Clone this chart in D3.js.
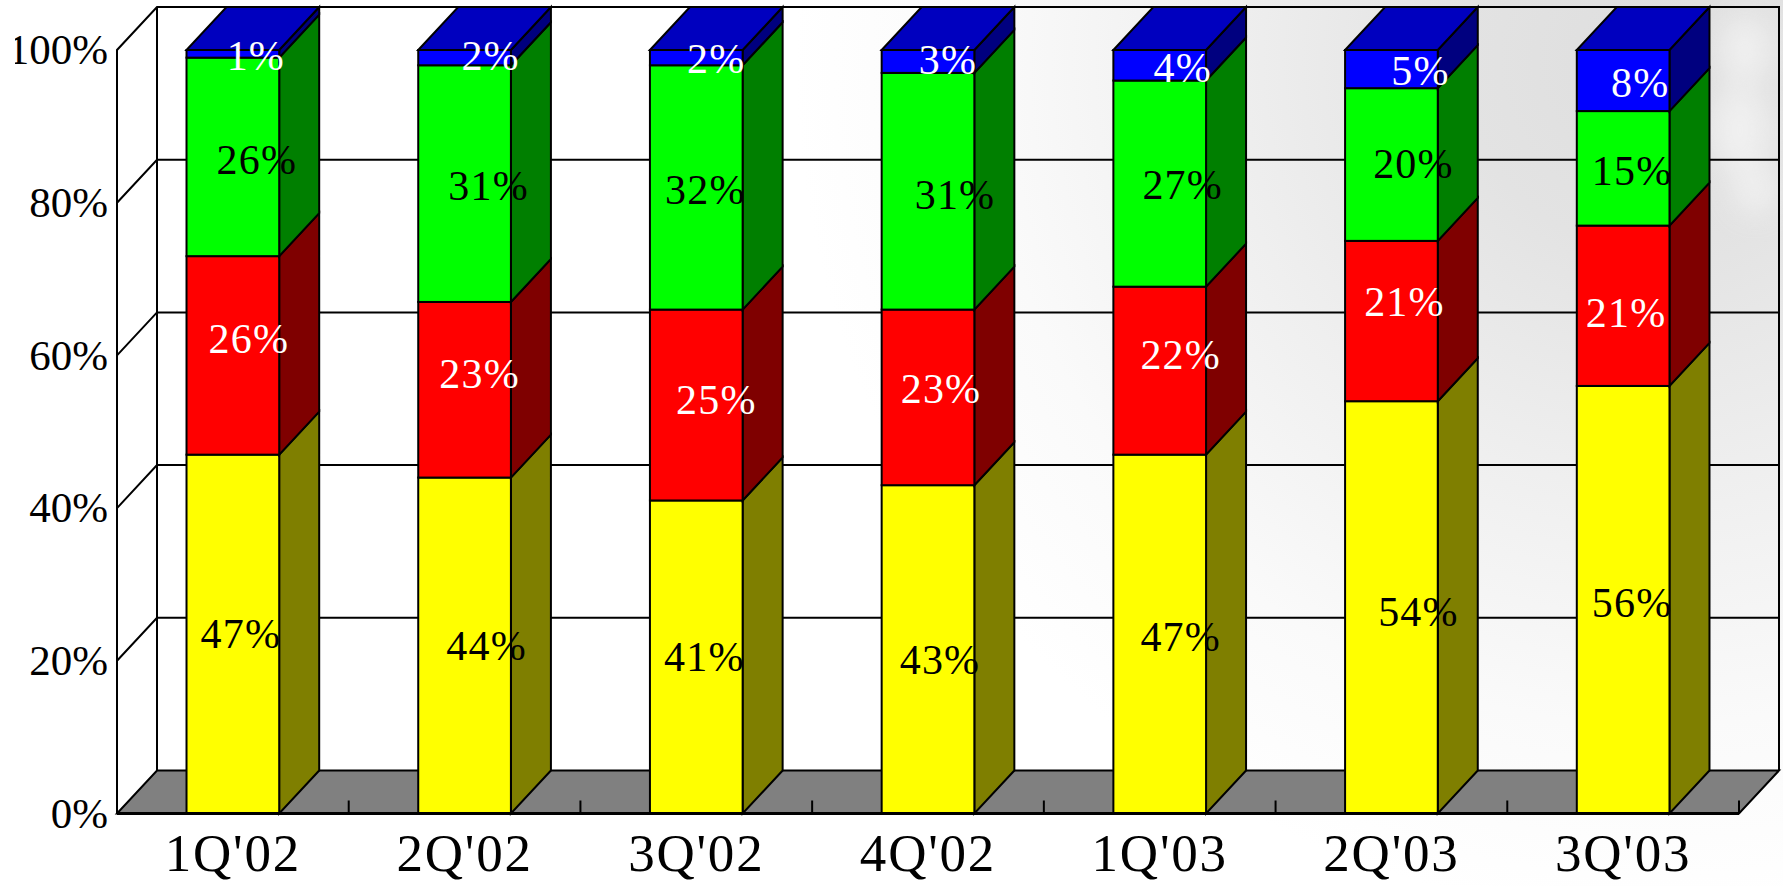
<!DOCTYPE html>
<html>
<head>
<meta charset="utf-8">
<script src="https://cdn.jsdelivr.net/npm/d3@7/dist/d3.min.js"></script>
<style>
  html, body { margin: 0; padding: 0; background: #fff; overflow: hidden; }
  svg { display: block; font-family: "Liberation Serif", serif; }
</style>
</head>
<body>
<svg id="chart" width="1783" height="886"></svg>
<script>
// Quarterly share by segment, bottom of the stack first
const quarters = ["1Q'02", "2Q'02", "3Q'02", "4Q'02", "1Q'03", "2Q'03", "3Q'03"];
const seriesNames = ["yellow", "red", "green", "blue"];
const yellowValues = [47, 44, 41, 43, 47, 54, 56];
const redValues = [26, 23, 25, 23, 22, 21, 21];
const greenValues = [26, 31, 32, 31, 27, 20, 15];
const blueValues = [1, 2, 2, 3, 4, 5, 8];
const percentTicks = [0, 20, 40, 60, 80, 100];

// Face colours for each series
const frontFill = { yellow: "#ffff00", red: "#ff0000", green: "#00ff00", blue: "#0000ff" };
const sideFill = { yellow: "#7f7f00", red: "#7f0000", green: "#007f00", blue: "#00007f" };
const labelFill = { yellow: "#000", red: "#fff", green: "#000", blue: "#fff" };
const topFill = "#0000bf";

// Hand placement of the value labels relative to the bar centre and segment middle
const labelShiftX = {
  yellow: [8, 22, 8, 12, 21, 27, 9],
  red: [16, 15, 20, 13, 21, 13, 3],
  green: [24, 24, 9, 27, 23, 22, 9],
  blue: [23, 26, 20, 20, 23, 29, 17]
};
const labelShiftY = {
  yellow: [0, 0, 0, 10, 3, 4, 3],
  red: [-17, -16, -5, -9, -16, -19, 7],
  green: [3, 2, 2, 3, 1, -1, 2],
  blue: [2, -2, 1, -2, 2, 2, 2]
};

// Oblique projection of the chart box
const frameLeft = 117, frameRight = 1739, frameBottom = 813.5, frameTop = 50;
const depthX = 40, depthY = 43;

const x = d3.scaleBand().domain(quarters).range([frameLeft, frameRight]).paddingInner(0.6).paddingOuter(0.3);
const y = d3.scaleLinear().domain([0, 100]).range([frameBottom, frameTop]);

const rows = quarters.map((q, i) => ({
  quarter: q,
  yellow: yellowValues[i], red: redValues[i], green: greenValues[i], blue: blueValues[i]
}));
const stacked = d3.stack().keys(seriesNames)(rows);

const svg = d3.select("#chart");
const defs = svg.append("defs");

// Soft grey wash behind the chart, heaviest toward the upper right
const wash = defs.append("radialGradient").attr("id", "wash")
  .attr("gradientUnits", "userSpaceOnUse")
  .attr("cx", 1650).attr("cy", 60).attr("r", 950);
[[0, "#dedede"], [0.2, "#e3e3e3"], [0.45, "#efefef"], [0.7, "#fafafa"], [0.9, "#ffffff"]].forEach(([o, c]) =>
  wash.append("stop").attr("offset", o).attr("stop-color", c));
defs.append("filter").attr("id", "soft").attr("x", "-50%").attr("y", "-50%").attr("width", "200%").attr("height", "200%")
  .append("feGaussianBlur").attr("stdDeviation", 14);
defs.append("clipPath").attr("id", "pageEdge").append("rect")
  .attr("x", 15).attr("y", 0).attr("width", 1768).attr("height", 886);

svg.append("rect").attr("width", 1783).attr("height", 886).attr("fill", "url(#wash)");
const mottling = svg.append("g").attr("filter", "url(#soft)").attr("fill", "#f4f4f4").attr("opacity", 0.75);
[[1745, 50, 26, 34], [1740, 130, 30, 44], [1755, 190, 22, 24]].forEach(([cx, cy, rx, ry]) =>
  mottling.append("ellipse").attr("cx", cx).attr("cy", cy).attr("rx", rx).attr("ry", ry));

const line = d3.line();
const styled = sel => sel.attr("fill", "none").attr("stroke", "#000").attr("stroke-width", 2);

// Floor
svg.append("path")
  .attr("d", line([[frameLeft, frameBottom], [frameLeft + depthX, frameBottom - depthY], [frameRight + depthX, frameBottom - depthY], [frameRight, frameBottom]]) + "Z")
  .attr("fill", "#808080").attr("stroke", "#000").attr("stroke-width", 2);

// Back wall outline and left wall
const walls = svg.append("g");
walls.append("path").call(styled).attr("d", line([
  [frameLeft, y(0)], [frameLeft, y(100)], [frameLeft + depthX, y(100) - depthY],
  [frameRight + depthX, y(100) - depthY], [frameRight + depthX, y(0) - depthY]
]));
walls.append("path").call(styled).attr("d", line([[frameLeft + depthX, y(100) - depthY], [frameLeft + depthX, y(0) - depthY]]));

// Gridlines run along the left wall and across the back wall
walls.selectAll("path.grid").data(percentTicks.slice(1, -1)).join("path")
  .attr("class", "grid").call(styled)
  .attr("d", t => line([[frameLeft, y(t)], [frameLeft + depthX, y(t) - depthY], [frameRight + depthX, y(t) - depthY]]));

// Category separators standing on the floor
svg.append("g").selectAll("path").data(quarters).join("path").call(styled)
  .attr("d", q => {
    const tx = x(q) + x.bandwidth() / 2 + x.step() / 2;
    return line([[tx, frameBottom], [tx, frameBottom - 13]]);
  });

// Bars: side faces and fronts, stacked upward
const bars = svg.append("g").attr("stroke", "#000").attr("stroke-width", 2).attr("stroke-linejoin", "miter");
quarters.forEach((q, i) => {
  const x0 = x(q), x1 = x0 + x.bandwidth();
  stacked.forEach(layer => {
    const [v0, v1] = layer[i];
    bars.append("path").attr("fill", sideFill[layer.key]).attr("d", line([
      [x1, y(v0)], [x1, y(v1)], [x1 + depthX, y(v1) - depthY], [x1 + depthX, y(v0) - depthY]
    ]) + "Z");
    bars.append("rect").attr("fill", frontFill[layer.key])
      .attr("x", x0).attr("y", y(v1)).attr("width", x.bandwidth()).attr("height", y(v0) - y(v1));
  });
  const sum = d3.sum(stacked, layer => layer[i][1] - layer[i][0]);
  bars.append("path").attr("fill", topFill).attr("d", line([
    [x0, y(sum)], [x0 + depthX, y(sum) - depthY], [x1 + depthX, y(sum) - depthY], [x1, y(sum)]
  ]) + "Z");
});

// Baseline along the front of the floor
svg.append("path").call(styled).attr("stroke-width", 3).attr("d", line([[frameLeft, frameBottom], [frameRight, frameBottom]]));

// Value labels
const labels = svg.append("g").attr("font-size", 42).attr("letter-spacing", 1.2).attr("text-anchor", "middle");
stacked.forEach(layer => {
  labels.selectAll(null).data(layer).join("text")
    .attr("x", (d, i) => x(quarters[i]) + x.bandwidth() / 2 + labelShiftX[layer.key][i])
    .attr("y", (d, i) => y((d[0] + d[1]) / 2) + labelShiftY[layer.key][i])
    .attr("dy", "0.34em")
    .attr("fill", labelFill[layer.key])
    .text(d => (d[1] - d[0]) + "%");
});

// Axis text; the widest tick label runs off the clipped left margin
const yAxisClip = svg.append("g").attr("clip-path", "url(#pageEdge)");
const yAxis = yAxisClip.append("g").attr("transform", `translate(${frameLeft},0)`)
  .call(d3.axisLeft(y).tickValues(percentTicks).tickSize(0).tickPadding(9).tickFormat(d => d + "%"));
yAxis.select(".domain").remove();
yAxis.selectAll("text").attr("font-family", "Liberation Serif").attr("font-size", 43).attr("fill", "#000");

const xAxis = svg.append("g").attr("transform", `translate(0,${frameBottom})`)
  .call(d3.axisBottom(x).tickSize(0).tickPadding(20));
xAxis.select(".domain").remove();
xAxis.selectAll("text").attr("font-family", "Liberation Serif").attr("font-size", 53)
  .attr("letter-spacing", 1.8).attr("fill", "#000");
</script>
</body>
</html>
